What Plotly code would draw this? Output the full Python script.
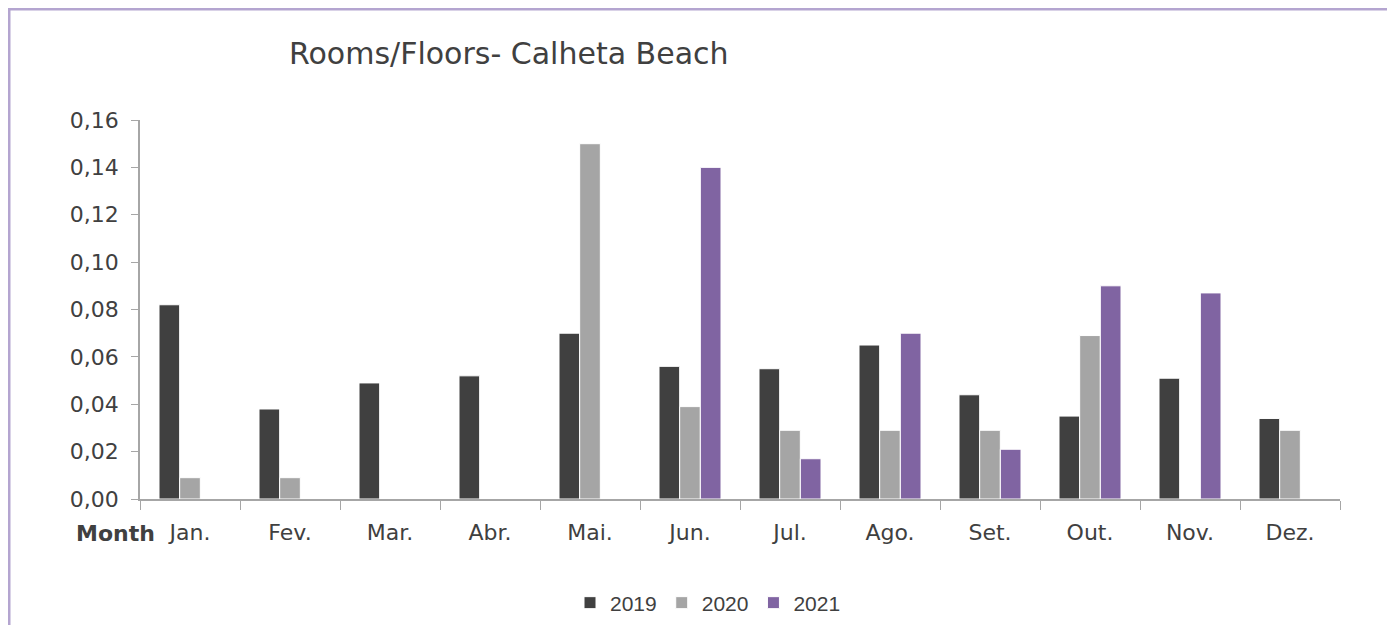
import plotly.graph_objects as go

months = ["Jan.", "Fev.", "Mar.", "Abr.", "Mai.", "Jun.", "Jul.", "Ago.", "Set.", "Out.", "Nov.", "Dez."]
v2019 = [0.082, 0.038, 0.049, 0.052, 0.070, 0.056, 0.055, 0.065, 0.044, 0.035, 0.051, 0.034]
v2020 = [0.009, 0.009, None, None, 0.150, 0.039, 0.029, 0.029, 0.029, 0.069, None, 0.029]
v2021 = [None, None, None, None, None, 0.140, 0.017, 0.070, 0.021, 0.090, 0.087, None]
yticks = [0, 0.02, 0.04, 0.06, 0.08, 0.10, 0.12, 0.14, 0.16]

FONT = "'DejaVu Sans', sans-serif"
TXT = "#404040"

# page body adds an 8px offset; positions below are figure pixels
OFF = 8
W, H = 1395 - OFF, 625 - OFF
L, T, PW, PH = 140 - OFF, 120 - OFF, 1200, 379


def px(x):
    return (x - OFF - L) / PW


def py(y):
    return (T + PH - (y - OFF)) / PH


fig = go.Figure()
for name, vals, col in [("2019", v2019, "#404040"), ("2020", v2020, "#a5a5a5"), ("2021", v2021, "#8064a2")]:
    fig.add_trace(go.Bar(name=name, x=months, y=vals, marker=dict(color=col, line=dict(color="white", width=1))))

fig.update_layout(
    width=W, height=H,
    margin=dict(l=L, r=W - L - PW, t=T, b=H - T - PH, autoexpand=False),
    paper_bgcolor="white", plot_bgcolor="white",
    separators=",.",
    barmode="group", bargap=0.38, bargroupgap=0,
    title=dict(text="Rooms/Floors- Calheta Beach", x=(289 - OFF) / W, xanchor="left", y=1 - (53 - OFF) / H,
               yanchor="middle", font=dict(family=FONT, size=30, color=TXT)),
    legend=dict(orientation="h", x=px(708), xanchor="center", y=py(603), yanchor="middle",
                font=dict(family="'Liberation Sans', Arial, sans-serif", size=21, color=TXT),
                traceorder="normal", itemwidth=30),
    font=dict(family=FONT, color=TXT),
    showlegend=True,
)
fig.update_yaxes(range=[0, 0.16], tickvals=yticks, tickformat=".2f", showgrid=False, zeroline=False,
                 showline=True, linecolor="#a6a6a6", linewidth=1.5, ticks="outside", ticklen=7,
                 tickcolor="#a6a6a6", ticklabelstandoff=8, tickfont=dict(family=FONT, size=22, color=TXT))
fig.update_xaxes(showgrid=False, showline=True, linecolor="#a6a6a6", linewidth=1.5, ticks="outside",
                 tickson="boundaries", ticklen=9, tickcolor="#a6a6a6", ticklabelstandoff=13,
                 tickfont=dict(family=FONT, size=22, color=TXT))

fig.add_annotation(text="<b>Month</b>", xref="paper", yref="paper", x=px(157), y=py(533),
                   xanchor="right", yanchor="middle", showarrow=False,
                   font=dict(family=FONT, size=22, color=TXT))
fig.add_shape(type="rect", xref="paper", yref="paper", x0=px(9), x1=px(1389),
              y0=py(660), y1=py(9), line=dict(color="#b4a5d0", width=3), layer="below")

fig.write_html("out.html")
